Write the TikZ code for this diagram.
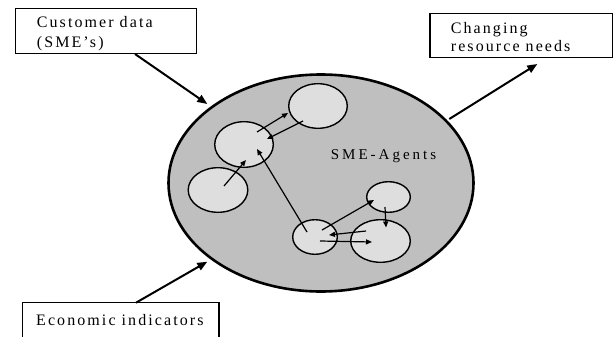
\documentclass[tikz,border=0pt]{standalone}
\usepackage{fontspec}
\setmainfont{Liberation Serif}
\newfontfamily\boxfont[LetterSpace=13]{Liberation Serif}
\newfontfamily\agentfont[LetterSpace=20]{Liberation Serif}
\usetikzlibrary{arrows.meta,shapes.geometric}
\definecolor{worldgray}{gray}{0.75}
\definecolor{agentgray}{gray}{0.87}

\begin{document}
\begin{tikzpicture}[x=1pt,y=-1pt,
  infobox/.style={draw,line width=1.3pt,rectangle,inner sep=0pt},
  lbl/.style={anchor=base west,inner sep=0pt,font=\boxfont\fontsize{16}{18}\selectfont},
  world/.style={ellipse,draw,line width=2.6pt,fill=worldgray,inner sep=0pt},
  agent/.style={ellipse,draw,line width=1.4pt,fill=agentgray,inner sep=0pt},
  flow/.style={-{Triangle[length=10pt,width=8pt]},line width=2pt},
  link/.style={-{Triangle[length=6pt,width=5pt]},line width=1.2pt},
]
\useasboundingbox (0,0) rectangle (613,337);
\clip (0,0) rectangle (613,337);

% the market environment
\node[world,minimum width=305,minimum height=217] (world) at (321,183) {};
\node[anchor=base west,inner sep=0pt,font=\agentfont\fontsize{15}{16}\selectfont] (agents) at (330.7,159.3) {SME-Agents};

% individual SME agents
\node[agent,minimum width=58.6,minimum height=44.6] (c1) at (318,106) {};
\node[agent,minimum width=58.6,minimum height=45.6] (c2) at (244,144.5) {};
\node[agent,minimum width=59.6,minimum height=44.6] (c3) at (218,190) {};
\node[agent,minimum width=44.6,minimum height=34.6] (c4) at (315,237) {};
\node[agent,minimum width=43.6,minimum height=30.6] (c5) at (388.5,197) {};
\node[agent,minimum width=59.6,minimum height=42.6] (c6) at (380.5,241) {};

% interaction end points
\coordinate (a1) at (257,132);  \coordinate (a2) at (288,113);
\coordinate (b1) at (303,121);  \coordinate (b2) at (267,139);
\coordinate (d1) at (224,186);  \coordinate (d2) at (246,160);
\coordinate (e1) at (307,232);  \coordinate (e2) at (257,149);
\coordinate (f1) at (322,230);  \coordinate (f2) at (374,200);
\coordinate (g1) at (385,207);  \coordinate (g2) at (386,227.5);
\coordinate (h1) at (366,231);  \coordinate (h2) at (329,235);
\coordinate (k1) at (320,241);  \coordinate (k2) at (372,242);

\draw[link] (a1) -- (a2);
\draw[link] (b1) -- (b2);
\draw[link] (d1) -- (d2);
\draw[link] (e1) -- (e2);
\draw[link] (f1) -- (f2);
\draw[link] (g1) -- (g2);
\draw[link] (h1) -- (h2);
\draw[link] (k1) -- (k2);

% external inputs and outputs
\node[infobox,minimum width=181,minimum height=45] (cust) at (106.2,30.8) {};
\node[lbl] (custA) at (36.7,27.3) {Customer data};
\node[lbl] (custB) at (36.7,47.3) {(SME’s)};

\node[infobox,minimum width=182.3,minimum height=44.4] (need) at (521.2,35.5) {};
\node[lbl] (needA) at (450.7,33.3) {Changing};
\node[lbl] (needB) at (450.7,51.7) {resource needs};

\node[infobox,minimum width=196.7,minimum height=60] (econ) at (120.6,332.7) {};
\node[lbl] (econA) at (36,325.7) {Economic indicators};

\coordinate (custout) at (135,54);
\coordinate (worldin1) at (207.3,104);
\coordinate (worldout) at (449.3,119);
\coordinate (needin) at (537.3,64);
\coordinate (econout) at (136,302.7);
\coordinate (worldin2) at (207.3,261.7);

\draw[flow] (custout) -- (worldin1);
\draw[flow] (worldout) -- (needin);
\draw[flow] (econout) -- (worldin2);
\end{tikzpicture}
\end{document}
